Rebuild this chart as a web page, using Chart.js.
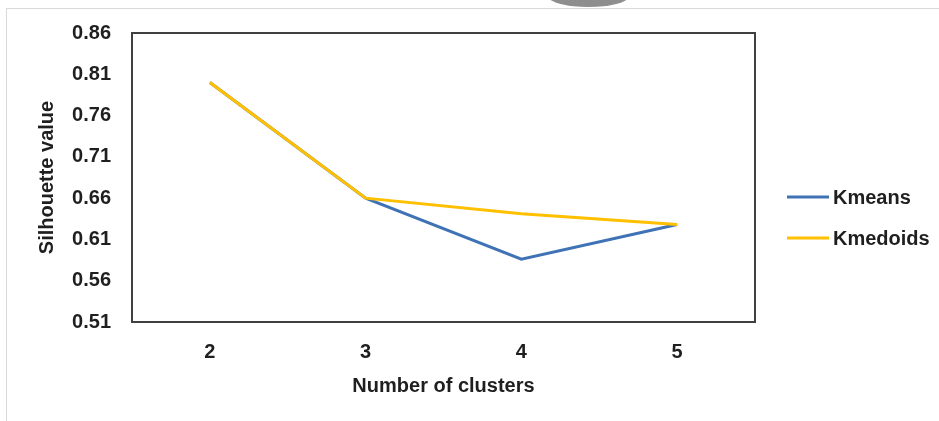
<!DOCTYPE html>
<html>
<head>
<meta charset="utf-8">
<script src="https://cdn.jsdelivr.net/npm/chart.js@4/dist/chart.umd.min.js"></script>
<style>
  html, body { margin: 0; padding: 0; background: #fff; }
  #wrap { position: relative; width: 939px; height: 421px; overflow: hidden; }
  #frame { position: absolute; left: 6px; top: 8px; right: -2px; bottom: -2px;
           border-top: 1px solid #d9d9d9; border-left: 1px solid #d9d9d9; }
  #tab { position: absolute; left: 549px; top: -13px; width: 79px; height: 20px;
         border-radius: 50%; background: #8e8e8e; }
  canvas { position: absolute; left: 0; top: 0; }
</style>
</head>
<body>
<div id="wrap">
  <div id="frame"></div>
  <div id="tab"></div>
  <canvas id="silhouetteChart" width="939" height="421"></canvas>
</div>
<script>
// cluster counts and silhouette scores
const clusters = ['2', '3', '4', '5'];
const kmeansValues = [0.800, 0.660, 0.586, 0.628];
const kmedoidsValues = [0.800, 0.660, 0.641, 0.628];
const yTicks = [0.51, 0.56, 0.61, 0.66, 0.71, 0.76, 0.81, 0.86];

const textColor = '#1f1f1f';
const fontFamily = '"Liberation Sans", Arial, sans-serif';

// box around the plot area
const plotFrame = {
  id: 'plotFrame',
  afterDatasetsDraw(chart) {
    const { ctx, chartArea: a } = chart;
    ctx.save();
    ctx.strokeStyle = '#404040';
    ctx.lineWidth = 2;
    ctx.strokeRect(a.left, a.top, a.right - a.left, a.bottom - a.top);
    ctx.restore();
  }
};

// legend on the right, line swatch + label
const sideLegend = {
  id: 'sideLegend',
  afterDraw(chart) {
    const { ctx, chartArea: a } = chart;
    const x = a.right + 32;
    let y = 197;
    ctx.save();
    ctx.font = 'bold 20px ' + fontFamily;
    ctx.textBaseline = 'middle';
    ctx.fillStyle = textColor;
    chart.data.datasets.forEach(ds => {
      ctx.strokeStyle = ds.borderColor;
      ctx.lineWidth = 3;
      ctx.beginPath();
      ctx.moveTo(x, y);
      ctx.lineTo(x + 42, y);
      ctx.stroke();
      ctx.fillText(ds.label, x + 46, y + 1);
      y += 41;
    });
    ctx.restore();
  }
};

const ctx = document.getElementById('silhouetteChart').getContext('2d');
new Chart(ctx, {
  type: 'line',
  data: {
    labels: clusters,
    datasets: [
      {
        label: 'Kmeans',
        data: kmeansValues,
        borderColor: '#4072B6',
        borderWidth: 3,
        pointRadius: 0,
        tension: 0,
        order: 1
      },
      {
        label: 'Kmedoids',
        data: kmedoidsValues,
        borderColor: '#FFC000',
        borderWidth: 3,
        pointRadius: 0,
        tension: 0,
        order: 0
      }
    ]
  },
  options: {
    responsive: false,
    animation: false,
    layout: { padding: { left: 31, top: 33, right: 184, bottom: 0 } },
    plugins: {
      legend: { display: false },
      tooltip: { enabled: false }
    },
    scales: {
      x: {
        offset: true,
        grid: { display: false, drawTicks: false },
        border: { display: false },
        ticks: { color: textColor, padding: 18, font: { family: fontFamily, size: 20, weight: 'bold' } },
        title: {
          display: true,
          text: 'Number of clusters',
          color: textColor,
          padding: { top: 4, bottom: 23 },
          font: { family: fontFamily, size: 20, weight: 'bold' }
        },
        afterFit: scale => { scale.height = 99; }
      },
      y: {
        min: 0.51,
        max: 0.86,
        grid: { display: false, drawTicks: false },
        border: { display: false },
        afterBuildTicks: scale => { scale.ticks = yTicks.map(v => ({ value: v })); },
        ticks: {
          color: textColor,
          padding: 21,
          font: { family: fontFamily, size: 20, weight: 'bold' },
          callback: v => v.toFixed(2)
        },
        title: {
          display: true,
          text: 'Silhouette value',
          color: textColor,
          padding: { top: 4, bottom: 4 },
          font: { family: fontFamily, size: 20, weight: 'bold' }
        },
        afterFit: scale => { scale.width = 101; }
      }
    }
  },
  plugins: [plotFrame, sideLegend]
});
</script>
</body>
</html>
